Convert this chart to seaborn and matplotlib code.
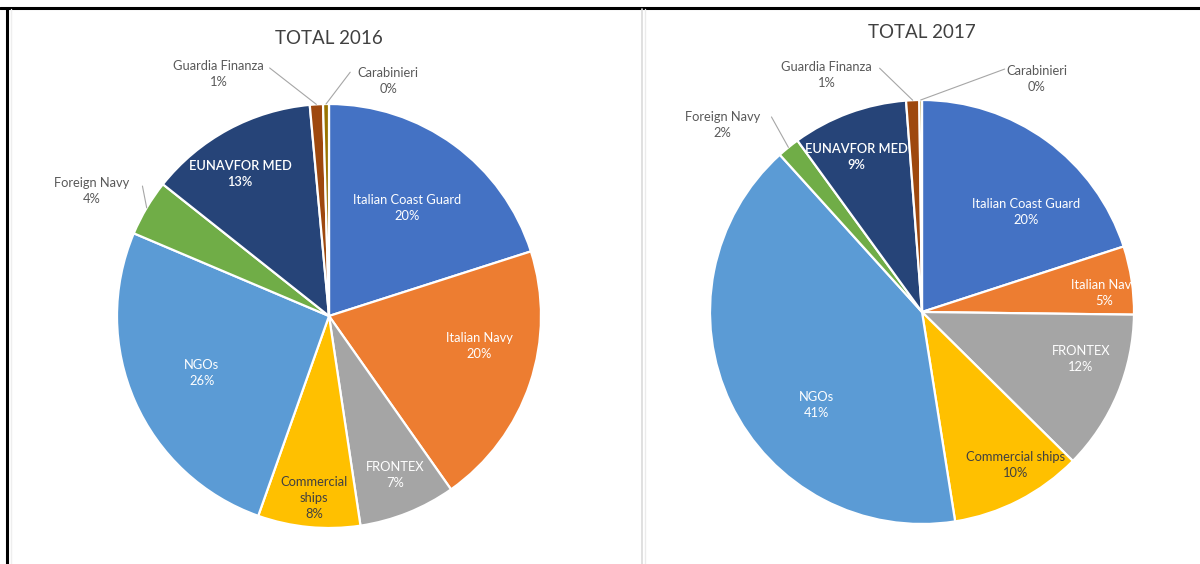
import numpy as np
import matplotlib
matplotlib.use("Agg")
import matplotlib.pyplot as plt
from matplotlib.lines import Line2D
import seaborn as sns

# ---------------- data ----------------
categories = ["Italian Coast Guard", "Italian Navy", "FRONTEX", "Commercial ships",
              "NGOs", "Foreign Navy", "EUNAVFOR MED", "Guardia Finanza", "Carabinieri"]
values_2016 = [20.1, 20.2, 7.4, 7.8, 26.0, 4.3, 12.9, 1.0, 0.45]
values_2017 = [20.0, 5.2, 12.2, 10.1, 40.8, 1.7, 8.8, 1.0, 0.2]
display_2016 = ["Italian Coast Guard", "Italian Navy", "FRONTEX", "Commercial\nships",
                "NGOs", "Foreign Navy", "EUNAVFOR MED", "Guardia Finanza", "Carabinieri"]
display_2017 = ["Italian Coast Guard", "Italian Navy", "FRONTEX", "Commercial ships",
                "NGOs", "Foreign Navy", "EUNAVFOR MED", "Guardia Finanza", "Carabinieri"]
titles = ["TOTAL 2016", "TOTAL 2017"]

# ---------------- style ----------------
colors = ["#4472C4", "#ED7D31", "#A5A5A5", "#FFC000", "#5B9BD5",
          "#70AD47", "#264478", "#9E480E", "#997300"]
text_colors = ["white", "white", "white", "#404040", "white",
               "#595959", "white", "#595959", "#595959"]
outside = {"Foreign Navy", "Guardia Finanza", "Carabinieri"}

sns.set_theme(style="white")
plt.rcParams["font.family"] = ["Lato", "DejaVu Sans"]

# label layout (data units, pie radius = 1)
label_pos = [
    {"Italian Coast Guard": (0.37, 0.51), "Italian Navy": (0.71, -0.14),
     "FRONTEX": (0.31, -0.75), "Commercial ships": (-0.07, -0.86),
     "NGOs": (-0.60, -0.27), "EUNAVFOR MED": (-0.42, 0.67),
     "Foreign Navy": (-1.12, 0.59), "Guardia Finanza": (-0.52, 1.14),
     "Carabinieri": (0.28, 1.11)},
    {"Italian Coast Guard": (0.49, 0.47), "Italian Navy": (0.86, 0.09),
     "FRONTEX": (0.75, -0.22), "Commercial ships": (0.44, -0.72),
     "NGOs": (-0.50, -0.44), "EUNAVFOR MED": (-0.31, 0.73),
     "Foreign Navy": (-0.94, 0.88), "Guardia Finanza": (-0.45, 1.12),
     "Carabinieri": (0.54, 1.10)},
]
leader_start = [
    {"Foreign Navy": (-0.88, 0.613), "Guardia Finanza": (-0.28, 1.17),
     "Carabinieri": (0.10, 1.15)},
    {"Foreign Navy": (-0.71, 0.92), "Guardia Finanza": (-0.20, 1.15),
     "Carabinieri": (0.39, 1.146)},
]

W, H = 1200, 564
fig = plt.figure(figsize=(W / 100, H / 100), dpi=100)
fig.patch.set_facecolor("white")

R = 212.0
panels = [
    dict(x0=8, x1=641, cx=329, cy=316),
    dict(x0=645, x1=1200, cx=922, cy=312),
]

for i, (vals, disp) in enumerate([(values_2016, display_2016), (values_2017, display_2017)]):
    p = panels[i]
    ax = fig.add_axes([p["x0"] / W, 0, (p["x1"] - p["x0"]) / W, 1])
    vals = np.array(vals, dtype=float)
    wedges, _ = ax.pie(vals, colors=colors, startangle=90, counterclock=False,
                       wedgeprops=dict(edgecolor="white", linewidth=1.6))
    ax.set_aspect("auto")
    ax.set_xlim((p["x0"] - p["cx"]) / R, (p["x1"] - p["cx"]) / R)
    ax.set_ylim((p["cy"] - H) / R, p["cy"] / R)
    ax.axis("off")

    pct = vals / vals.sum() * 100
    for j, cat in enumerate(categories):
        txt = f"{disp[j]}\n{int(np.floor(pct[j] + 0.5))}%"
        x, y = label_pos[i][cat]
        weight = "semibold" if cat == "EUNAVFOR MED" else "normal"
        t = ax.text(x, y, txt, ha="center", va="center", fontsize=9.3,
                    color=text_colors[j], linespacing=1.4, fontweight=weight)
        if i == 1 and cat == "Italian Navy":
            t.set_clip_path(wedges[j])
        if cat in outside:
            w = wedges[j]
            mid = np.deg2rad((w.theta1 + w.theta2) / 2)
            ex, ey = np.cos(mid), np.sin(mid)
            sx, sy = leader_start[i][cat]
            ax.add_line(Line2D([sx, ex], [sy, ey], color="#A6A6A6", lw=0.8))

    title_y = (p["cy"] - (38 if i == 0 else 33)) / R
    ax.text(0, title_y, titles[i], ha="center", va="center", fontsize=13.5,
            color="#404040")

# frame lines
fig.add_artist(Line2D([0, 1], [1 - 7.5 / H, 1 - 7.5 / H], color="black", lw=2.2,
                      transform=fig.transFigure))
fig.add_artist(Line2D([7 / W, 7 / W], [0, 1 - 7.5 / H], color="black", lw=2.2,
                      transform=fig.transFigure))
fig.add_artist(Line2D([642 / W, 642 / W], [0, 1 - 9 / H], color="#DADADA", lw=1.2,
                      transform=fig.transFigure))
fig.add_artist(Line2D([645 / W, 645 / W], [0, 1 - 9 / H], color="#EBEBEB", lw=1.0,
                      transform=fig.transFigure))
fig.add_artist(Line2D([11 / W, 11 / W], [0, 1 - 9 / H], color="#EFEFEF", lw=1.0,
                      transform=fig.transFigure))

fig.savefig("out.png", dpi=100, facecolor="white")
